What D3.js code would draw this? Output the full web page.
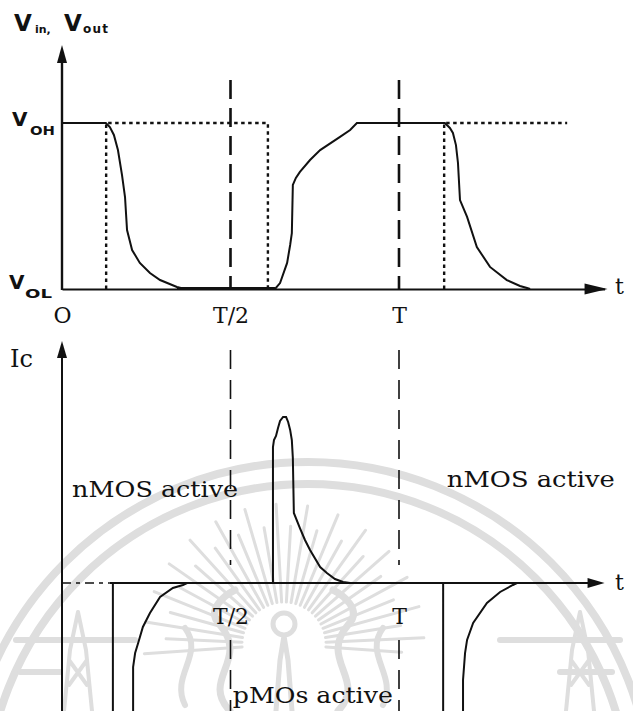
<!DOCTYPE html>
<html><head><meta charset="utf-8">
<script src="https://cdn.jsdelivr.net/npm/d3@7"></script>
<style>html,body{margin:0;padding:0;background:#fff;}svg{display:block;}</style>
</head><body>
<svg id="chart" width="633" height="711"></svg>
<script>
// Time is in units of the period T; voltages are normalised (V_OL = 0, V_OH = 1),
// currents are normalised to the peak of the nMOS discharge spike.
const vOut = [
  [0,1],[0.13,1],[0.142,0.976],[0.154,0.928],[0.166,0.837],[0.178,0.687],[0.187,0.554],
  [0.193,0.355],[0.208,0.235],[0.231,0.157],[0.261,0.096],[0.291,0.054],[0.341,0.012],
  [0.365,0],[0.632,0],[0.647,0.036],[0.668,0.157],[0.677,0.265],[0.682,0.337],[0.685,0.627],
  [0.694,0.669],[0.706,0.705],[0.736,0.777],[0.766,0.837],[0.825,0.916],[0.855,0.958],
  [0.875,1],[1.136,1],[1.151,0.97],[1.16,0.94],[1.169,0.867],[1.175,0.759],[1.181,0.536],
  [1.202,0.434],[1.231,0.253],[1.27,0.133],[1.32,0.054],[1.359,0.018],[1.38,0.006],[1.389,0]
];
const vInFirst = [[0.131,0],[0.131,1],[0.611,1],[0.611,0]];
const vInSecond = [[1.134,0],[1.134,1],[1.499,1]];

const iNmos = [
  [0.626,0],[0.626,0.819],[0.629,0.861],[0.635,0.886],[0.641,0.934],[0.647,0.976],
  [0.656,1],[0.665,1],[0.671,0.97],[0.677,0.922],[0.682,0.861],[0.685,0.753],[0.688,0.422],
  [0.706,0.331],[0.721,0.259],[0.736,0.199],[0.766,0.096],[0.786,0.06],[0.81,0.024],
  [0.834,0.006],[0.855,0]
];
const iPmosFirst = [
  [0.151,0],[0.151,-0.95],[0.211,-0.95],[0.211,-0.506],[0.217,-0.422],[0.226,-0.361],
  [0.24,-0.265],[0.261,-0.181],[0.291,-0.084],[0.329,-0.03],[0.359,-0.012],[0.371,0]
];
const iPmosSecond = [
  [1.131,0],[1.131,-0.95],[1.19,-0.95],[1.19,-0.584],[1.196,-0.422],[1.202,-0.343],
  [1.22,-0.241],[1.261,-0.12],[1.3,-0.054],[1.338,-0.012],[1.35,0]
];

const periodMarks = [0.5, 1];
const topTicks = [0, 0.5, 1];
const topTickLabels = ["O", "T/2", "T"];
const bottomTicks = [0.5, 1];
const bottomTickLabels = ["T/2", "T"];
const regionLabels = ["nMOS active", "nMOS active", "pMOs active"];

const svg = d3.select("#chart");
const ink = "#111";
const serif = "'DejaVu Serif', 'Liberation Serif', serif";
const sans = "'DejaVu Sans', 'Liberation Sans', sans-serif";

const tEnd = 1.61;
const x = d3.scaleLinear().domain([0, tEnd]).range([62, 62 + tEnd * 337]);
const yTop = d3.scaleLinear().domain([0, 1]).range([289, 123]);
const yBot = d3.scaleLinear().domain([0, 1]).range([583, 417]);

// faint seal in the background
const wm = svg.append("g").attr("fill", "none").attr("stroke", "#dedede").attr("stroke-linecap", "round");
[344, 322].forEach(r => {
  wm.append("circle").attr("cx", 308).attr("cy", 806).attr("r", r).attr("stroke-width", 8);
});
d3.range(30).forEach(i => {
  const a = -Math.PI * 1.04 + (i + 0.5) * Math.PI * 1.08 / 30;
  const r2 = i % 2 ? 118 : 140;
  wm.append("line")
    .attr("x1", 284 + 42 * Math.cos(a)).attr("y1", 644 + 42 * Math.sin(a))
    .attr("x2", 284 + r2 * Math.cos(a)).attr("y2", 644 + r2 * Math.sin(a))
    .attr("stroke-width", 3);
});
wm.append("circle").attr("cx", 284).attr("cy", 624).attr("r", 11).attr("stroke-width", 5);
wm.append("path").attr("d", "M284,636 L280,660 L276,711 M284,636 L288,660 L292,711").attr("stroke-width", 5);
// flames either side of the emblem
[[1, 230], [-1, 338]].forEach(([s, cx]) => {
  wm.append("path").attr("stroke-width", 7)
    .attr("d", `M${cx},711 C${cx - s * 30},680 ${cx + s * 20},660 ${cx - s * 10},625 C${cx - s * 25},610 ${cx - s * 5},595 ${cx + s * 5},590`);
  wm.append("path").attr("stroke-width", 6)
    .attr("d", `M${cx - s * 45},705 C${cx - s * 60},675 ${cx - s * 25},655 ${cx - s * 45},628`);
});
// pagodas at both sides
[78, 580].forEach(px => {
  wm.append("path").attr("stroke-width", 4)
    .attr("d", `M${px},612 L${px - 8},650 L${px - 14},711 M${px},612 L${px + 8},650 L${px + 14},711 M${px - 9},660 L${px + 9},685 M${px + 9},660 L${px - 9},685`);
});
[[16, 135, 640], [500, 620, 640], [20, 60, 672], [560, 612, 672]].forEach(([a, b, yy]) => {
  wm.append("line").attr("x1", a).attr("x2", b).attr("y1", yy).attr("y2", yy).attr("stroke-width", 6);
});

const line = (ys) => d3.line().x(d => x(d[0])).y(d => ys(d[1]));

// ---------- upper panel: V_in / V_out ----------
const upper = svg.append("g");

// period markers
periodMarks.forEach(t => {
  upper.append("line").attr("x1", x(t)).attr("x2", x(t)).attr("y1", 80).attr("y2", yTop(0))
    .attr("stroke", ink).attr("stroke-width", 2.6).attr("stroke-dasharray", "19,9");
});

// input (dotted)
[vInFirst, vInSecond].forEach(p => {
  upper.append("path").attr("d", line(yTop)(p)).attr("fill", "none")
    .attr("stroke", ink).attr("stroke-width", 2.4).attr("stroke-dasharray", "3.5,3.5");
});

// time axis
const axTop = upper.append("g").attr("transform", `translate(0,${yTop(0)})`)
  .call(d3.axisBottom(x).tickValues(topTicks).tickSize(0).tickSizeOuter(0)
    .tickFormat((d, i) => topTickLabels[i]));
axTop.select(".domain").attr("stroke", ink).attr("stroke-width", 2);
axTop.selectAll("text").attr("font-family", serif).attr("font-size", 22)
  .attr("fill", ink).attr("dy", null).attr("y", 34);

// output (solid)
upper.append("path").attr("d", line(yTop)(vOut)).attr("fill", "none")
  .attr("stroke", ink).attr("stroke-width", 2);
upper.append("line").attr("x1", x(0.341)).attr("x2", x(0.632)).attr("y1", yTop(0) - 1).attr("y2", yTop(0) - 1)
  .attr("stroke", ink).attr("stroke-width", 2);

// vertical axis with arrow
upper.append("line").attr("x1", 62).attr("x2", 62).attr("y1", yTop(0) + 1).attr("y2", 58)
  .attr("stroke", ink).attr("stroke-width", 2.4);
upper.append("path").attr("d", "M62,45 L67,63 L57,63 Z").attr("fill", ink);
upper.append("path").attr("d", `M${x(tEnd) + 3},289 L${x(tEnd) - 20},283.5 L${x(tEnd) - 20},294.5 Z`).attr("fill", ink);

// labels
const vLab = upper.append("text").attr("font-family", sans).attr("font-weight", "bold").attr("fill", ink);
vLab.append("tspan").attr("x", 14).attr("y", 31).attr("font-size", 23).text("V");
vLab.append("tspan").attr("x", 35).attr("y", 33).attr("font-size", 11).text("in,");
vLab.append("tspan").attr("x", 64).attr("y", 31).attr("font-size", 23).text("V");
vLab.append("tspan").attr("x", 83).attr("y", 33).attr("font-size", 12).attr("textLength", 25).text("out");

const oh = upper.append("text").attr("font-family", sans).attr("font-weight", "bold").attr("fill", ink);
oh.append("tspan").attr("x", 12).attr("y", 126).attr("font-size", 20).text("V");
oh.append("tspan").attr("x", 30).attr("y", 135).attr("font-size", 12)
  .attr("textLength", 25).attr("lengthAdjust", "spacingAndGlyphs").text("OH");
const ol = upper.append("text").attr("font-family", sans).attr("font-weight", "bold").attr("fill", ink);
ol.append("tspan").attr("x", 9).attr("y", 289).attr("font-size", 20).text("V");
ol.append("tspan").attr("x", 25).attr("y", 298).attr("font-size", 12)
  .attr("textLength", 27).attr("lengthAdjust", "spacingAndGlyphs").text("OL");

upper.append("text").attr("x", 615).attr("y", 294).attr("font-family", serif).attr("font-size", 22)
  .attr("fill", ink).text("t");

// ---------- lower panel: capacitor current ----------
const lower = svg.append("g");

periodMarks.forEach(t => {
  lower.append("line").attr("x1", x(t)).attr("x2", x(t)).attr("y1", 350).attr("y2", 565)
    .attr("stroke", ink).attr("stroke-width", 1.6).attr("stroke-dasharray", "19,11");
  lower.append("line").attr("x1", x(t)).attr("x2", x(t)).attr("y1", 640).attr("y2", 711)
    .attr("stroke", ink).attr("stroke-width", 1.6).attr("stroke-dasharray", "19,11");
});

const axBot = lower.append("g").attr("transform", `translate(0,${yBot(0)})`)
  .call(d3.axisBottom(x).tickValues(bottomTicks).tickSize(0).tickSizeOuter(0)
    .tickFormat((d, i) => bottomTickLabels[i]));
axBot.select(".domain").remove();
axBot.selectAll("text").attr("font-family", serif).attr("font-size", 22)
  .attr("fill", ink).attr("dy", null).attr("y", 41);

lower.append("line").attr("x1", 62).attr("x2", x(0.142)).attr("y1", yBot(0)).attr("y2", yBot(0))
  .attr("stroke", ink).attr("stroke-width", 1.6).attr("stroke-dasharray", "9,5,4,5");
lower.append("line").attr("x1", x(0.142)).attr("x2", x(tEnd) - 5).attr("y1", yBot(0)).attr("y2", yBot(0))
  .attr("stroke", ink).attr("stroke-width", 2);
lower.append("path").attr("d", `M${x(tEnd)},583 L${x(tEnd) - 17},578 L${x(tEnd) - 17},588 Z`).attr("fill", ink);

[iNmos, iPmosFirst, iPmosSecond].forEach(p => {
  lower.append("path").attr("d", line(yBot)(p)).attr("fill", "none")
    .attr("stroke", ink).attr("stroke-width", 2);
});

lower.append("line").attr("x1", 62).attr("x2", 62).attr("y1", 711).attr("y2", 354)
  .attr("stroke", ink).attr("stroke-width", 2);
lower.append("path").attr("d", "M62,341 L67,358 L57,358 Z").attr("fill", ink);

lower.append("text").attr("x", 10).attr("y", 367).attr("font-family", serif).attr("font-size", 24)
  .attr("fill", ink).text("Ic");
lower.append("text").attr("x", 615).attr("y", 590).attr("font-family", serif).attr("font-size", 22)
  .attr("fill", ink).text("t");

const regionPos = [[0.03, 0.518, 166], [1.142, 0.578, 168], [0.507, -0.723, 160]];
regionLabels.forEach((s, i) => {
  const [t, v, w] = regionPos[i];
  lower.append("text").attr("x", x(t)).attr("y", yBot(v)).attr("font-family", serif)
    .attr("font-size", 22).attr("fill", ink).attr("textLength", w)
    .attr("lengthAdjust", "spacingAndGlyphs").text(s);
});
</script>
</body></html>
